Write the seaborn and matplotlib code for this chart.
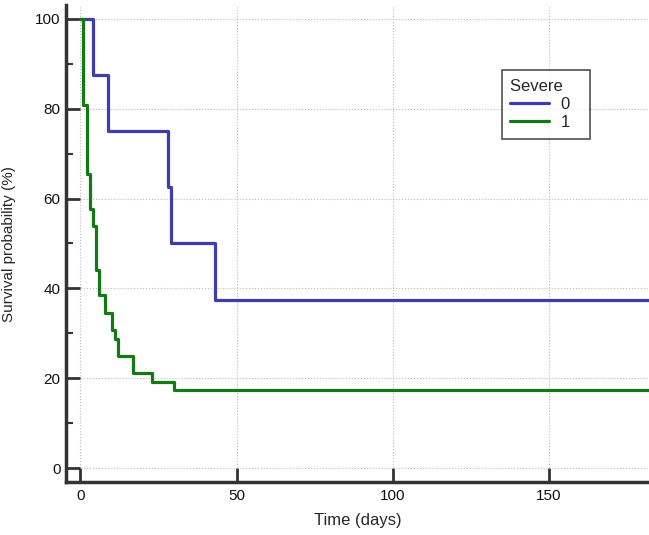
import matplotlib
matplotlib.use("Agg")
import matplotlib.pyplot as plt
import pandas as pd
import seaborn as sns
from matplotlib.ticker import MultipleLocator

# Kaplan-Meier step values
time_0 = [0, 4, 9, 28, 29, 43, 182]
surv_0 = [100, 87.5, 75, 62.5, 50, 37.5, 37.5]

time_1 = [0, 1, 2, 3, 4, 5, 6, 8, 10, 11, 12, 17, 23, 30, 182]
surv_1 = [100, 80.8, 65.4, 57.7, 53.8, 44.2, 38.5, 34.6, 30.8, 28.8, 25.0, 21.2, 19.2, 17.3, 17.3]

groups = ["0", "1"]
colors = ["#3d3db0", "#137a13"]

df = pd.concat([
    pd.DataFrame({"time": time_0, "surv": surv_0, "Severe": groups[0]}),
    pd.DataFrame({"time": time_1, "surv": surv_1, "Severe": groups[1]}),
])

sns.set_style("white")
plt.rcParams["font.family"] = ["Liberation Sans", "DejaVu Sans"]

fig = plt.figure(figsize=(6.49, 5.35), dpi=100)
ax = fig.add_axes([0.102, 0.099, 0.898, 0.891])

sns.lineplot(data=df, x="time", y="surv", hue="Severe", palette=dict(zip(groups, colors)),
             estimator=None, drawstyle="steps-post", linewidth=2.3, ax=ax)

ax.set_xlim(-4.5, 182)
ax.set_ylim(-3.1, 103)
ax.xaxis.set_major_locator(MultipleLocator(50))
ax.yaxis.set_major_locator(MultipleLocator(20))
ax.yaxis.set_minor_locator(MultipleLocator(10))
ax.tick_params(axis="both", which="major", direction="in", length=10, width=2,
               color="#333333", labelsize=11, labelcolor="#111111")
ax.tick_params(axis="y", which="major", left=True, pad=4)
ax.tick_params(axis="x", which="major", bottom=True, pad=5)
ax.tick_params(axis="y", which="minor", direction="in", length=5, width=1.5, color="#333333", left=True)

for s in ["top", "right"]:
    ax.spines[s].set_visible(False)
for s in ["left", "bottom"]:
    ax.spines[s].set_linewidth(2.5)
    ax.spines[s].set_color("#333333")

ax.grid(True, which="major", linestyle=":", color="#bbbbbb", linewidth=0.8)

ax.set_xlabel("Time (days)", fontsize=12, labelpad=7)
ax.set_ylabel("Survival probability (%)", fontsize=11, labelpad=14)

leg = ax.legend(title="Severe    ", loc="upper left", bbox_to_anchor=(0.748, 0.864),
                borderaxespad=0, frameon=True, fancybox=False, edgecolor="#222222",
                fontsize=12, title_fontsize=12, handlelength=2.3, borderpad=0.5,
                labelspacing=0.2, handletextpad=0.7)
leg.get_frame().set_linewidth(1.2)
leg._legend_box.align = "left"

fig.savefig("out.png", dpi=100)
